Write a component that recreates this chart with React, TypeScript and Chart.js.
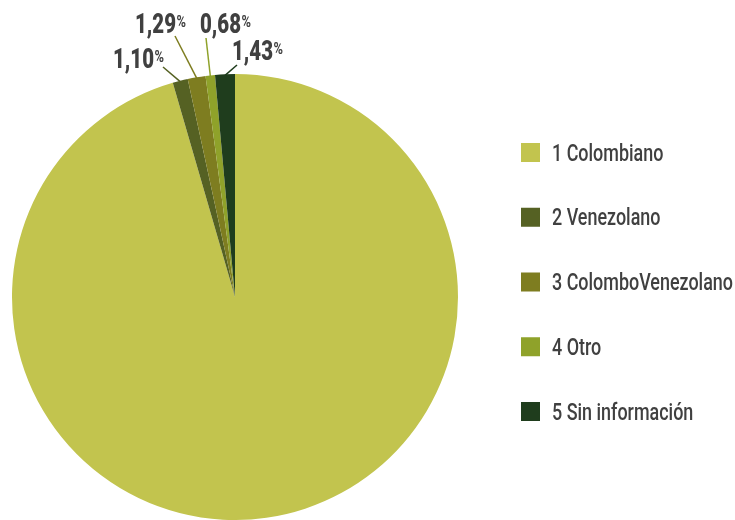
import React, { useEffect, useRef } from "react";
import { Chart, registerables } from "chart.js";

Chart.register(...registerables);

const categories = ["1 Colombiano", "2 Venezolano", "3 ColomboVenezolano", "4 Otro", "5 Sin información"];
const shares = [95.5, 1.1, 1.29, 0.68, 1.43];
const valueLabels = ["", "1,10", "1,29", "0,68", "1,43"];
const colors = ["#c2c44e", "#556123", "#7e7d20", "#8fa22a", "#1f3d1d"];

// label placement: [text x, text baseline, leader line top x, leader line top y]
const labelPlacement: (number[] | null)[] = [
  null,
  [113, 68, 163, 67],
  [135, 33, 175, 36],
  [200, 33, 206, 38],
  [232, 60, 237, 65],
];

const FONT = 'Roboto, "Liberation Sans", sans-serif';
const TEXT = "#404040";

function condensedText(
  ctx: CanvasRenderingContext2D,
  text: string,
  x: number,
  y: number,
  sx: number
) {
  ctx.save();
  ctx.translate(x, y);
  ctx.scale(sx, 1);
  ctx.fillText(text, 0, 0);
  ctx.restore();
  return ctx.measureText(text).width * sx;
}

const overlay = {
  id: "overlay",
  afterDraw(chart: any) {
    const ctx = chart.ctx as CanvasRenderingContext2D;
    const meta = chart.getDatasetMeta(0);
    ctx.save();
    ctx.font = `900 28px ${FONT}`;
    const labelScale = 41 / ctx.measureText("1,10").width;
    meta.data.forEach((arc: any, i: number) => {
      const p = labelPlacement[i];
      if (!p) return;
      const { x, y, startAngle, endAngle, outerRadius } = arc.getProps(
        ["x", "y", "startAngle", "endAngle", "outerRadius"],
        true
      );
      const mid = (startAngle + endAngle) / 2;
      const ex = x + Math.cos(mid) * outerRadius * 0.995;
      const ey = y + Math.sin(mid) * outerRadius * 0.995;
      ctx.strokeStyle = colors[i];
      ctx.lineWidth = 1.5;
      ctx.beginPath();
      ctx.moveTo(p[2], p[3]);
      ctx.lineTo(ex, ey);
      ctx.stroke();
      ctx.fillStyle = TEXT;
      ctx.textBaseline = "alphabetic";
      ctx.textAlign = "left";
      ctx.font = `900 28px ${FONT}`;
      const w = condensedText(ctx, valueLabels[i], p[0], p[1], labelScale);
      ctx.font = `bold 16px ${FONT}`;
      condensedText(ctx, "%", p[0] + w + 0.5, p[1] - 6, labelScale * 1.1);
    });
    // legend
    ctx.font = `500 24px ${FONT}`;
    const legendScale = 181 / ctx.measureText("3 ColomboVenezolano").width;
    categories.forEach((c, i) => {
      const top = 143 + i * 64.75;
      ctx.fillStyle = colors[i];
      ctx.fillRect(521, top, 19, 19);
      ctx.fillStyle = TEXT;
      ctx.font = `500 24px ${FONT}`;
      ctx.textBaseline = "alphabetic";
      condensedText(ctx, c, 552, top + 17.5, legendScale);
    });
    ctx.restore();
  },
};

export default function App() {
  const ref = useRef<HTMLCanvasElement>(null);
  useEffect(() => {
    document.body.style.margin = "0";
    const chart = new Chart(ref.current!, {
      type: "pie",
      data: {
        labels: categories,
        datasets: [
          {
            data: shares,
            backgroundColor: colors,
            borderWidth: 0,
          },
        ],
      },
      options: {
        animation: false,
        responsive: false,
        layout: { padding: { top: 74, bottom: 0, left: 12, right: 277 } },
        plugins: { legend: { display: false }, tooltip: { enabled: false } },
      },
      plugins: [overlay],
    });
    return () => chart.destroy();
  }, []);
  return <canvas ref={ref} width={735} height={520} style={{ display: "block" }} />;
}
